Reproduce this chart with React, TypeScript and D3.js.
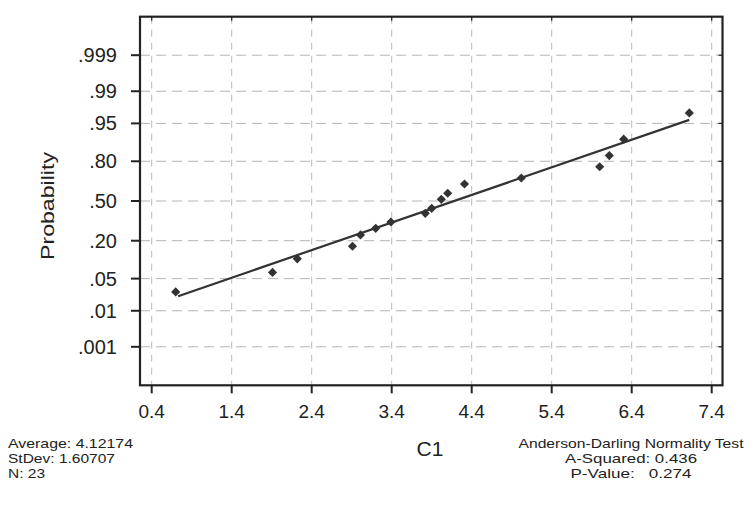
import React from "react";
import * as d3 from "d3";

// ---- data ----
const probTicks = [0.001, 0.01, 0.05, 0.2, 0.5, 0.8, 0.95, 0.99, 0.999];
const probTickLabels = [".001", ".01", ".05", ".20", ".50", ".80", ".95", ".99", ".999"];
const xTicks = [0.4, 1.4, 2.4, 3.4, 4.4, 5.4, 6.4, 7.4];
const pointX = [0.70, 1.91, 2.22, 2.91, 3.01, 3.20, 3.39, 3.82, 3.90, 4.02, 4.10, 4.31, 5.02, 6.00, 6.12, 6.30, 7.12];
const pointP = [0.027, 0.065, 0.110, 0.169, 0.236, 0.281, 0.328, 0.397, 0.438, 0.514, 0.565, 0.641, 0.687, 0.766, 0.832, 0.905, 0.969];
const fitMean = 4.18;
const fitSd = 1.71;
const fitRange = [0.73, 7.12];
const leftStats = ["Average: 4.12174", "StDev: 1.60707", "N: 23"];
const rightStats = ["Anderson-Darling Normality Test", "A-Squared: 0.436", "P-Value:   0.274"];

// inverse standard normal CDF (Acklam)
function probit(p: number): number {
  const a = [-3.969683028665376e1, 2.209460984245205e2, -2.759285104469687e2, 1.38357751867269e2, -3.066479806614716e1, 2.506628277459239];
  const b = [-5.447609879822406e1, 1.615858368580409e2, -1.556989798598866e2, 6.680131188771972e1, -1.328068155288572e1];
  const c = [-7.784894002430293e-3, -3.223964580411365e-1, -2.400758277161838, -2.549732539343734, 4.374664141464968, 2.938163982698783];
  const d = [7.784695709041462e-3, 3.224671290700398e-1, 2.445134137142996, 3.754408661907416];
  const pl = 0.02425;
  let q, r;
  if (p < pl) {
    q = Math.sqrt(-2 * Math.log(p));
    return (((((c[0] * q + c[1]) * q + c[2]) * q + c[3]) * q + c[4]) * q + c[5]) / ((((d[0] * q + d[1]) * q + d[2]) * q + d[3]) * q + 1);
  } else if (p <= 1 - pl) {
    q = p - 0.5;
    r = q * q;
    return ((((((a[0] * r + a[1]) * r + a[2]) * r + a[3]) * r + a[4]) * r + a[5]) * q) / (((((b[0] * r + b[1]) * r + b[2]) * r + b[3]) * r + b[4]) * r + 1);
  } else {
    q = Math.sqrt(-2 * Math.log(1 - p));
    return -(((((c[0] * q + c[1]) * q + c[2]) * q + c[3]) * q + c[4]) * q + c[5]) / ((((d[0] * q + d[1]) * q + d[2]) * q + d[3]) * q + 1);
  }
}

const W = 753, H = 521;
const L = 140, R = 722.5, T = 16.7, B = 385.3;
const x = d3.scaleLinear().domain([0.4, 7.4]).range([151.7, 711.7]);
const z = d3.scaleLinear().domain([-3.906, 3.906]).range([B, T]);
const yP = (p: number) => z(probit(p));

const FONT = "'Liberation Sans', Arial, Helvetica, sans-serif";
const leftWidths = [125, 107, 37];
const rightWidths = [225, 132, 121];

export default function App() {
  const diamond = d3.symbol().type(d3.symbolSquare).size(42)() as string;
  const fitPts: [number, number][] = fitRange.map((v) => [x(v), z((v - fitMean) / fitSd)]);
  const line = d3.line()(fitPts) as string;
  return (
    <svg width={W} height={H} style={{ position: "absolute", left: 0, top: 0, background: "#fff" }} fontFamily={FONT}>
      {/* grid */}
      <g stroke="#ababab" strokeWidth={0.9} strokeDasharray="10,6">
        {probTicks.map((p, i) => (
          <line key={"h" + i} x1={L} x2={R} y1={yP(p)} y2={yP(p)} />
        ))}
      </g>
      <g stroke="#b3b3b3" strokeWidth={0.9} strokeDasharray="7,6">
        {xTicks.map((v, i) => (
          <line key={"v" + i} x1={x(v)} x2={x(v)} y1={T} y2={B} />
        ))}
      </g>
      {/* frame */}
      <rect x={L} y={T} width={R - L} height={B - T} fill="none" stroke="#222" strokeWidth={2.2} />
      {/* left ticks and labels */}
      {probTicks.map((p, i) => (
        <g key={"yt" + i}>
          <line x1={L - 9} x2={L} y1={yP(p)} y2={yP(p)} stroke="#222" strokeWidth={2} />
          <line x1={R - 4} x2={R} y1={yP(p)} y2={yP(p)} stroke="#222" strokeWidth={1.2} />
          <text x={117} y={yP(p) + 7} textAnchor="end" fontSize={20} fill="#222">
            {probTickLabels[i]}
          </text>
        </g>
      ))}
      {/* bottom ticks and labels */}
      {xTicks.map((v, i) => (
        <g key={"xt" + i}>
          <line x1={x(v)} x2={x(v)} y1={B} y2={B + 8} stroke="#222" strokeWidth={2} />
          <line x1={x(v)} x2={x(v)} y1={T} y2={T + 4} stroke="#222" strokeWidth={1.2} />
          <text x={x(v)} y={418} textAnchor="middle" fontSize={19} fill="#222">
            {v.toFixed(1)}
          </text>
        </g>
      ))}
      {/* fit line */}
      <path d={line} stroke="#333" strokeWidth={2.2} fill="none" />
      {/* points */}
      {pointX.map((v, i) => (
        <path key={"pt" + i} d={diamond} transform={`translate(${x(v)},${yP(pointP[i])}) rotate(45)`} fill="#333" />
      ))}
      {/* axis titles */}
      <text x={430} y={456} textAnchor="middle" fontSize={21} fill="#222">C1</text>
      <text transform="translate(54,206) rotate(-90)" textAnchor="middle" fontSize={19} fill="#222" textLength={108} lengthAdjust="spacingAndGlyphs">Probability</text>
      {/* stats */}
      {leftStats.map((s, i) => (
        <text key={"ls" + i} x={8} y={448 + i * 15} fontSize={13} fill="#222" textLength={leftWidths[i]} lengthAdjust="spacingAndGlyphs">{s}</text>
      ))}
      {rightStats.map((s, i) => (
        <text key={"rs" + i} x={631} y={448 + i * 15} textAnchor="middle" fontSize={13} fill="#222" style={{ whiteSpace: "pre" }} textLength={rightWidths[i]} lengthAdjust="spacingAndGlyphs">{s}</text>
      ))}
    </svg>
  );
}
